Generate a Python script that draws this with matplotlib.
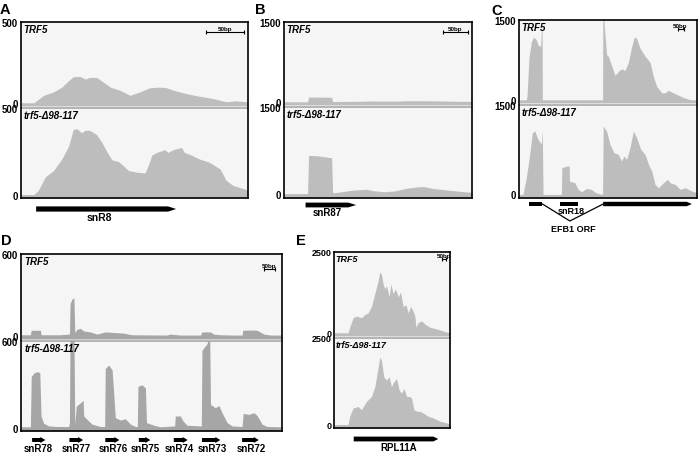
import matplotlib
matplotlib.use("Agg")
import matplotlib.pyplot as plt

plt.rcParams['font.family'] = ['Liberation Sans', 'DejaVu Sans']

# ---------------- data: positions in bp, values = read coverage ----------------
# panel A: snR8
a_xmax, a_ymax = 300, 500
a_top_x = [0, 17, 30, 43, 54, 63, 69, 78, 85, 91, 100, 109, 118, 131, 144, 157,
           170, 183, 192, 205, 219, 236, 254, 271, 284, 298, 300]
a_top_y = [0, 0, 46, 67, 97, 137, 161, 163, 147, 157, 157, 127, 97, 77, 46, 67,
           93, 97, 93, 73, 56, 40, 26, 6, 12, 6, 6]
a_bot_x = [0, 17, 23, 32, 43, 54, 63, 69, 74, 80, 85, 91, 100, 107, 114, 120, 129,
           135, 142, 153, 164, 168, 173, 179, 190, 194, 201, 212, 216, 225, 236,
           249, 263, 271, 280, 291, 300]
a_bot_y = [0, 0, 25, 101, 139, 205, 281, 376, 380, 357, 372, 370, 346, 300, 243,
           201, 190, 167, 139, 129, 125, 167, 228, 243, 259, 243, 259, 272, 243,
           228, 205, 186, 148, 82, 53, 38, 25]
a_genes = ['snR8']
a_gene_start = [20]
a_gene_end = [205]
a_label_x = [104]

# panel B: snR87
b_xmax, b_ymax = 375, 1500
b_top_x = [0, 47, 49, 95, 97, 152, 172, 219, 245, 279, 319, 345, 375]
b_top_y = [0, 0, 90, 85, 5, 10, 15, 12, 20, 20, 15, 10, 8]
b_bot_x = [0, 47, 49, 65, 95, 97, 105, 125, 139, 165, 178, 199, 219, 245, 265,
           279, 295, 319, 345, 375]
b_bot_y = [15, 15, 670, 665, 630, 30, 35, 59, 77, 89, 65, 47, 59, 107, 130, 136,
           107, 83, 59, 36]
b_genes = ['snR87']
b_gene_start = [43]
b_gene_end = [144]
b_label_x = [87]

# panel C: EFB1 / snR18
c_xmax, c_ymax = 1480, 1500
c_top_x = [0, 61, 67, 83, 103, 122, 145, 158, 180, 186, 192, 194, 695, 697, 705,
           714, 728, 742, 770, 798, 834, 853, 881, 909, 937, 959, 978, 1006, 1048,
           1090, 1118, 1145, 1187, 1215, 1243, 1271, 1312, 1368, 1410, 1425, 1480]
c_top_y = [0, 0, 72, 792, 1092, 1182, 1122, 1032, 1002, 1332, 1332, 0, 0, 1600,
           1500, 1250, 850, 822, 642, 462, 552, 582, 552, 702, 1002, 1182, 1152,
           972, 822, 702, 432, 252, 132, 132, 180, 144, 102, 42, 12, 0, 0]
c_bot_x = [0, 33, 61, 89, 111, 131, 158, 186, 192, 194, 200, 353, 356, 395, 417,
           420, 464, 492, 520, 561, 603, 639, 673, 695, 700, 728, 756, 789, 825,
           853, 873, 895, 923, 951, 978, 1012, 1048, 1076, 1104, 1131, 1159, 1201,
           1234, 1257, 1298, 1340, 1382, 1437, 1480]
c_bot_y = [0, 0, 280, 672, 1036, 1064, 924, 840, 1036, 1036, 0, 0, 448, 476, 476,
           224, 196, 84, 45, 100, 84, 28, 10, 0, 1148, 1064, 840, 700, 672, 560,
           644, 588, 784, 1064, 952, 756, 672, 504, 392, 168, 112, 196, 252, 196,
           168, 84, 112, 56, 28]
c_exon1 = (83, 195)
c_snr18 = (345, 487)
c_exon2 = (700, 1437)
c_intron_apex = 423

# panel D: snR78-snR72 cluster
d_xmax, d_ymax = 1223, 600
d_top_x = [0, 44, 48, 91, 94, 184, 223, 227, 230, 239, 248, 252, 262, 278, 294,
           325, 356, 395, 442, 481, 520, 684, 700, 747, 841, 848, 888, 903, 934,
           997, 1036, 1039, 1075, 1106, 1138, 1169, 1223]
d_top_y = [7, 7, 40, 40, 7, 7, 12, 12, 235, 270, 277, 23, 47, 54, 35, 28, 12, 28,
           23, 19, 7, 5, 12, 5, 5, 28, 28, 12, 7, 5, 5, 40, 42, 40, 12, 5, 5]
d_bot_x = [0, 44, 48, 59, 75, 88, 94, 106, 130, 169, 223, 227, 230, 248, 252, 259,
           278, 291, 294, 309, 333, 372, 392, 395, 411, 427, 442, 466, 489, 513,
           536, 545, 548, 567, 583, 588, 622, 653, 716, 720, 723, 747, 759, 778,
           841, 845, 848, 872, 884, 888, 911, 927, 942, 966, 989, 1036, 1041, 1067,
           1091, 1106, 1130, 1153, 1223]
d_bot_y = [5, 5, 353, 376, 388, 381, 80, 30, 11, 7, 7, 34, 650, 650, 23, 148, 171,
           189, 80, 57, 23, 7, 7, 410, 433, 399, 68, 52, 61, 23, 7, 7, 285, 296,
           274, 34, 16, 5, 11, 11, 80, 80, 46, 16, 11, 11, 536, 582, 650, 160, 137,
           153, 103, 34, 11, 7, 98, 91, 103, 84, 23, 7, 5]
d_genes = ['snR78', 'snR77', 'snR76', 'snR75', 'snR74', 'snR73', 'snR72']
d_gene_start = [52, 227, 395, 552, 716, 848, 1036]
d_gene_end = [114, 291, 461, 606, 781, 934, 1114]
d_label_x = [83, 259, 431, 581, 744, 895, 1078]

# panel E: RPL11A
e_xmax, e_ymax = 1447, 2500
e_top_x = [0, 175, 196, 238, 279, 342, 384, 425, 467, 509, 550, 571, 592, 613, 634,
           655, 688, 709, 738, 767, 801, 830, 863, 897, 926, 955, 988, 1009, 1022,
           1051, 1093, 1134, 1197, 1280, 1343, 1405, 1447]
e_top_y = [0, 0, 169, 466, 516, 466, 565, 615, 813, 1210, 1607, 1885, 1806, 1508,
           1359, 1459, 1111, 1508, 1210, 1359, 1111, 1260, 813, 863, 615, 813, 665,
           516, 169, 317, 367, 268, 169, 119, 69, 20, 0]
e_bot_x = [0, 175, 196, 238, 300, 342, 404, 467, 509, 538, 571, 592, 621, 655, 688,
           717, 746, 780, 813, 842, 872, 905, 947, 967, 997, 1038, 1072, 1113, 1176,
           1238, 1322, 1405, 1447]
e_bot_y = [0, 0, 238, 475, 523, 428, 665, 808, 1093, 1473, 1948, 1853, 1378, 1283,
           1378, 1093, 1235, 1330, 998, 903, 1045, 808, 808, 760, 428, 380, 380,
           333, 238, 190, 95, 48, 20]
e_genes = ['RPL11A']
e_gene_start = [246]
e_gene_end = [1301]
e_label_x = [805]

# 50 bp scale bars (start, end in bp)
a_scale = (245, 295)
b_scale = (317, 367)
c_scale = (1318, 1368)
d_scale = (1137, 1188)
e_scale = (1343, 1393)

top_name = 'TRF5'
bot_name = 'trf5-\u039498-117'

# ---------------- figure ----------------
W, H = 698, 456
fig = plt.figure(figsize=(W / 100, H / 100), dpi=100)


def px_box(x0, y0, x1, y1):
    return [x0 / W, 1 - y1 / H, (x1 - x0) / W, (y1 - y0) / H]


def track(rect, x, y, xmax, ymax, name, color, fs, is_top):
    ax = fig.add_axes(px_box(*rect))
    base = -0.04 * ymax
    ax.fill_between(x, y, base, color=color, linewidth=0)
    ax.set_xlim(0, xmax)
    ax.set_ylim(base, ymax)
    ax.set_facecolor('#f5f5f5')
    ax.set_xticks([])
    ax.set_yticks([0, ymax], ['0', str(ymax)])
    ax.tick_params(axis='y', length=0, pad=2, labelsize=fs)
    for lab in ax.get_yticklabels():
        lab.set_fontweight('bold')
    for s in ax.spines.values():
        s.set_visible(False)
    if not is_top:
        ax.spines['top'].set_visible(True)
        ax.spines['top'].set_color('#a8a8a8')
        ax.spines['top'].set_linewidth(1.2)
    ax.text(0.012, 0.975, name, transform=ax.transAxes, ha='left', va='top',
            fontsize=fs, style='italic', weight='bold')
    return ax


def scale_bar(ax, sb, yfrac):
    tr = ax.get_xaxis_transform()
    ax.plot(sb, [yfrac, yfrac], transform=tr, color='black', lw=0.8,
            marker='|', ms=3, mew=0.8)
    ax.annotate('50bp', xy=(sum(sb) / 2, yfrac), xycoords=tr, xytext=(0, 0.5),
                textcoords='offset points', ha='center', va='bottom',
                fontsize=4.5, weight='bold')


def frame(x0, y0, x1, y1):
    fr = fig.add_axes(px_box(x0, y0, x1, y1), zorder=5)
    fr.set_facecolor('none')
    fr.set_xticks([])
    fr.set_yticks([])
    for s in fr.spines.values():
        s.set_linewidth(1.2)
        s.set_color('black')


def gene_axis(x0, x1, ybox, height, xmax):
    g = fig.add_axes(px_box(x0, ybox, x1, ybox + height))
    g.set_xlim(0, xmax)
    g.set_ylim(height, 0)
    g.axis('off')
    return g


def gene_arrow(g, start, end, y, head_len, half=2.5, head_half=3.5):
    neck = end - head_len
    xs = [start, neck, neck, end, neck, neck, start]
    ys = [y - half, y - half, y - head_half, y, y + head_half, y + half, y + half]
    g.fill(xs, ys, color='black', lw=0, clip_on=False)


def gene_rect(g, start, end, y, half=2.5):
    g.fill([start, end, end, start], [y - half, y - half, y + half, y + half],
           color='black', lw=0, clip_on=False)


def panel(letter, letter_xy, xs, ys, xmax, ymax, top, bot, color, fs, sb, sb_off):
    x0, x1 = xs
    y_top, y_sep, y_bot = ys
    ta = track((x0, y_top, x1, y_sep), top[0], top[1], xmax, ymax, top_name, color, fs, True)
    track((x0, y_sep + 2, x1, y_bot), bot[0], bot[1], xmax, ymax, bot_name, color, fs, False)
    frame(x0, y_top, x1, y_bot)
    scale_bar(ta, sb, 1 - sb_off / (y_sep - y_top))
    fig.text(letter_xy[0] / W, 1 - letter_xy[1] / H, letter, fontsize=10.5,
             weight='bold', ha='center', va='center')


# panel A
panel('A', (5, 10), (21, 248), (23, 107, 199), a_xmax, a_ymax,
      (a_top_x, a_top_y), (a_bot_x, a_bot_y), '#bdbdbd', 7, a_scale, 10)
g = gene_axis(21, 248, 199, 30, a_xmax)
for name, s, e, lx in zip(a_genes, a_gene_start, a_gene_end, a_label_x):
    gene_arrow(g, s, e, 11, 8 * a_xmax / 227, half=2.6, head_half=2.6)
    g.text(lx, 19, name, ha='center', va='center', fontsize=7.5, weight='bold')

# panel B
panel('B', (260, 10), (284, 472), (23, 106, 199), b_xmax, b_ymax,
      (b_top_x, b_top_y), (b_bot_x, b_bot_y), '#bdbdbd', 7, b_scale, 10)
g = gene_axis(284, 472, 199, 30, b_xmax)
for name, s, e, lx in zip(b_genes, b_gene_start, b_gene_end, b_label_x):
    gene_arrow(g, s, e, 7, 8 * b_xmax / 188, half=2.4, head_half=2.4)
    g.text(lx, 14, name, ha='center', va='center', fontsize=7, weight='bold')

# panel C
panel('C', (497, 11), (519, 697), (21, 104, 199), c_xmax, c_ymax,
      (c_top_x, c_top_y), (c_bot_x, c_bot_y), '#bdbdbd', 7, c_scale, 9)
g = gene_axis(519, 697, 199, 36, c_xmax)
gene_rect(g, *c_exon1, 6, half=2.2)
gene_rect(g, *c_snr18, 6, half=2.2)
gene_arrow(g, *c_exon2, 6, 5 * c_xmax / 178, half=2.2, head_half=2.2)
g.plot([c_exon1[1], c_intron_apex, c_exon2[0]], [6, 23, 6], color='black', lw=0.9,
       clip_on=False)
g.text(436, 13, 'snR18', ha='center', va='center', fontsize=6.5, weight='bold')
g.text(450, 31, 'EFB1 ORF', ha='center', va='center', fontsize=6.5, weight='bold')

# panel D
panel('D', (6, 241), (21, 282), (255, 340, 432), d_xmax, d_ymax,
      (d_top_x, d_top_y), (d_bot_x, d_bot_y), '#a6a6a6', 7, d_scale, 15)
g = gene_axis(21, 282, 432, 24, d_xmax)
for name, s, e, lx in zip(d_genes, d_gene_start, d_gene_end, d_label_x):
    gene_arrow(g, s, e, 9, 5 * d_xmax / 261, half=2.0, head_half=3.0)
    g.text(lx, 17.5, name, ha='center', va='center', fontsize=7, weight='bold')

# panel E
panel('E', (301, 241), (334, 450), (253, 337, 429), e_xmax, e_ymax,
      (e_top_x, e_top_y), (e_bot_x, e_bot_y), '#bdbdbd', 6.5, e_scale, 7)
g = gene_axis(334, 450, 429, 27, e_xmax)
for name, s, e, lx in zip(e_genes, e_gene_start, e_gene_end, e_label_x):
    gene_arrow(g, s, e, 11, 5 * e_xmax / 116, half=2.4, head_half=2.4)
    g.text(lx, 19.5, name, ha='center', va='center', fontsize=7, weight='bold')

fig.savefig('out.png', dpi=100)
